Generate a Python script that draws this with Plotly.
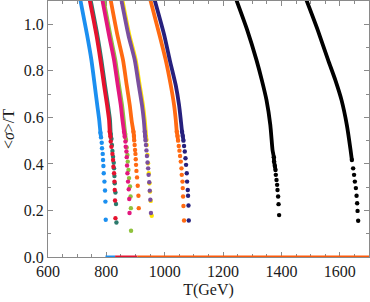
import plotly.graph_objects as go

# ---- data: T (GeV) and <sigma>/T, top of curve -> end point ----
blue_T = [711.1, 734.1, 748.8, 760.1, 768.7, 775.5, 779.7, 781.7, 784.1, 785.1, 787.5, 788.6, 789.9, 791.0, 793.4, 795.4, 796.8, 797.8]
blue_v = [1.103, 0.953, 0.846, 0.738, 0.653, 0.589, 0.534, 0.514, 0.491, 0.467, 0.443, 0.417, 0.391, 0.360, 0.324, 0.286, 0.238, 0.160]

teal_T = [746.4, 769.4, 783.1, 795.4, 805.7, 812.5, 815.0, 817.4, 819.1, 820.8, 822.9, 825.3, 826.3, 827.7, 828.7, 831.1, 833.1, 834.5]
teal_v = [1.103, 0.953, 0.846, 0.738, 0.653, 0.589, 0.528, 0.507, 0.481, 0.456, 0.431, 0.405, 0.381, 0.348, 0.317, 0.277, 0.228, 0.148]

red_T = [743.0, 766.0, 779.7, 792.0, 802.3, 809.1, 811.5, 813.9, 815.0, 817.4, 820.8, 822.9, 824.2, 826.3, 827.7, 828.7, 829.7, 831.1]
red_v = [1.103, 0.953, 0.846, 0.738, 0.653, 0.589, 0.538, 0.517, 0.496, 0.474, 0.443, 0.417, 0.388, 0.360, 0.324, 0.288, 0.243, 0.167]

green_T = [791.0, 813.6, 830.8, 843.5, 853.8, 859.6, 864.7, 867.4, 869.8, 872.2, 873.3, 875.7, 877.7, 881.1, 883.0, 884.0, 884.6]
green_v = [1.103, 0.953, 0.846, 0.738, 0.653, 0.589, 0.528, 0.503, 0.471, 0.438, 0.410, 0.374, 0.339, 0.303, 0.260, 0.210, 0.113]

magenta_T = [786.5, 809.1, 826.3, 839.0, 849.3, 855.1, 860.6, 863.0, 865.4, 866.4, 868.8, 869.8, 870.9, 872.2, 874.3, 876.7, 878.4, 879.4]
magenta_v = [1.103, 0.953, 0.846, 0.738, 0.653, 0.589, 0.538, 0.517, 0.496, 0.474, 0.453, 0.429, 0.393, 0.360, 0.324, 0.291, 0.249, 0.189]

orange1_T = [815.0, 837.9, 857.1, 869.8, 880.1, 886.3, 892.8, 894.5, 895.5, 896.9, 898.3, 899.7, 900.7, 901.7, 903.1, 905.1, 907.5, 909.9, 911.0]
orange1_v = [1.103, 0.953, 0.846, 0.738, 0.653, 0.589, 0.538, 0.520, 0.501, 0.481, 0.460, 0.443, 0.420, 0.396, 0.370, 0.342, 0.306, 0.263, 0.210]

yellow_T = [855.1, 879.1, 900.7, 914.4, 925.4, 931.5, 937.4, 938.4, 940.8, 942.9, 945.3, 947.7, 949.7, 952.1, 955.5]
yellow_v = [1.103, 0.953, 0.846, 0.738, 0.653, 0.589, 0.503, 0.481, 0.438, 0.403, 0.360, 0.317, 0.281, 0.241, 0.177]

purple_T = [851.7, 875.7, 897.3, 911.0, 922.0, 928.1, 931.5, 932.9, 934.3, 935.7, 937.4, 939.1, 941.1, 943.2, 944.9, 947.0, 948.7, 950.7, 952.8]
purple_v = [1.103, 0.953, 0.846, 0.738, 0.653, 0.589, 0.538, 0.520, 0.501, 0.481, 0.458, 0.434, 0.406, 0.381, 0.353, 0.321, 0.285, 0.246, 0.189]

orange2_T = [951.1, 982.3, 1003.5, 1020.7, 1032.0, 1037.8, 1041.3, 1043.7, 1045.7, 1048.1, 1050.5, 1052.6, 1055.0, 1057.4, 1058.4, 1060.8, 1061.8, 1062.9, 1064.2, 1066.3]
orange2_v = [1.103, 0.953, 0.846, 0.738, 0.653, 0.589, 0.538, 0.520, 0.500, 0.477, 0.457, 0.434, 0.410, 0.381, 0.353, 0.324, 0.296, 0.260, 0.219, 0.157]

navy_T = [965.8, 998.4, 1017.3, 1037.8, 1049.1, 1055.0, 1059.4, 1061.8, 1064.2, 1066.3, 1068.7, 1071.1, 1073.1, 1075.5, 1076.6, 1079.0, 1080.0, 1081.4, 1082.4]
navy_v = [1.103, 0.953, 0.846, 0.738, 0.653, 0.589, 0.538, 0.520, 0.500, 0.477, 0.453, 0.424, 0.396, 0.360, 0.324, 0.288, 0.263, 0.221, 0.157]

black1_T = [1245.9, 1283.0, 1314.5, 1332.7, 1348.8, 1361.8, 1369.4, 1371.4, 1373.8, 1374.8, 1377.3, 1379.6, 1380.7, 1383.1, 1385.1, 1386.5, 1388.6, 1390.0, 1392.0]
black1_v = [1.103, 0.974, 0.846, 0.760, 0.674, 0.567, 0.460, 0.446, 0.429, 0.410, 0.391, 0.374, 0.353, 0.331, 0.310, 0.288, 0.260, 0.227, 0.180]

black2_T = [1485.9, 1524.7, 1560.0, 1584.7, 1605.9, 1624.1, 1636.8, 1641.3, 1645.7, 1648.8, 1651.5, 1655.0, 1657.4, 1659.4, 1660.8, 1662.9]
black2_v = [1.103, 0.974, 0.846, 0.760, 0.674, 0.567, 0.460, 0.417, 0.381, 0.353, 0.324, 0.296, 0.263, 0.231, 0.198, 0.156]

# points with <sigma>/T = 0 above the critical temperatures
zero_blue_T = [797, 830]
zero_red_T = [830, 906]
zero_orange_T = [906, 1700]

# (T, v, colour, lower limit of the merged-dot band)
series = [
    (teal_T, teal_v, "#2b7a6c", 0.50),
    (red_T, red_v, "#e5122e", 0.50),
    (green_T, green_v, "#8fc23c", 0.50),
    (magenta_T, magenta_v, "#e3177e", 0.50),
    (yellow_T, yellow_v, "#ffe400", 0.50),
    (purple_T, purple_v, "#7a4f9e", 0.50),
    (blue_T, blue_v, "#1b8ff0", 0.50),
    (orange1_T, orange1_v, "#ff6a12", 0.50),
    (orange2_T, orange2_v, "#ff6a12", 0.50),
    (navy_T, navy_v, "#26207d", 0.50),
    (black1_T, black1_v, "#000000", 0.37),
    (black2_T, black2_v, "#000000", 0.40),
]

fig = go.Figure()
for T, v, col, cut in series:
    lt = [t for t, y in zip(T, v) if y >= cut]
    lv = [y for y in v if y >= cut]
    fig.add_trace(go.Scatter(x=lt, y=lv, mode="lines", line=dict(color=col, width=3.8, shape="spline", smoothing=0.6),
                             showlegend=False, hoverinfo="skip"))
    dt = [t for t, y in zip(T, v) if y < cut + 0.06]
    dv = [y for y in v if y < cut + 0.06]
    fig.add_trace(go.Scatter(x=dt, y=dv, mode="markers", marker=dict(color=col, size=4.4, line=dict(width=0)),
                             showlegend=False, hoverinfo="skip"))

for zt, col in [(zero_blue_T, "#1b8ff0"), (zero_red_T, "#e5122e"), (zero_orange_T, "#ff5a0a")]:
    fig.add_trace(go.Scatter(x=zt, y=[0] * len(zt), mode="lines", line=dict(color=col, width=3),
                             cliponaxis=False, showlegend=False, hoverinfo="skip"))

font_family = "Liberation Serif"
axis_common = dict(
    showgrid=False, zeroline=False, showline=True, linecolor="#8a8a8a", linewidth=1,
    mirror="ticks", ticks="inside", tickcolor="#8a8a8a", ticklen=5, tickwidth=1,
    tickfont=dict(family=font_family, size=16, color="#1a1a1a"),
    layer="below traces",
)
fig.update_xaxes(range=[600, 1700], tickvals=[600, 800, 1000, 1200, 1400, 1600],
                 minor=dict(dtick=50, ticks="inside", ticklen=3, tickcolor="#8a8a8a"),
                 title=dict(text="T(GeV)", font=dict(family=font_family, size=16, color="#1a1a1a"), standoff=4),
                 **axis_common)
fig.update_yaxes(range=[0, 1.1], tickvals=[0.0, 0.2, 0.4, 0.6, 0.8, 1.0], tickformat=".1f",
                 minor=dict(dtick=0.1, ticks="inside", ticklen=3, tickcolor="#8a8a8a"),
                 title=dict(text="&lt;<i>σ</i>&gt;/T", font=dict(family=font_family, size=16, color="#1a1a1a"), standoff=6),
                 **axis_common)
fig.update_layout(width=370, height=302, autosize=False,
                  margin=dict(l=48, r=1, t=1, b=45),
                  font=dict(family=font_family),
                  plot_bgcolor="white", paper_bgcolor="white")
fig.write_html("out.html", config={"displayModeBar": False},
               post_script="document.body.style.margin='0';document.body.style.padding='0';")
